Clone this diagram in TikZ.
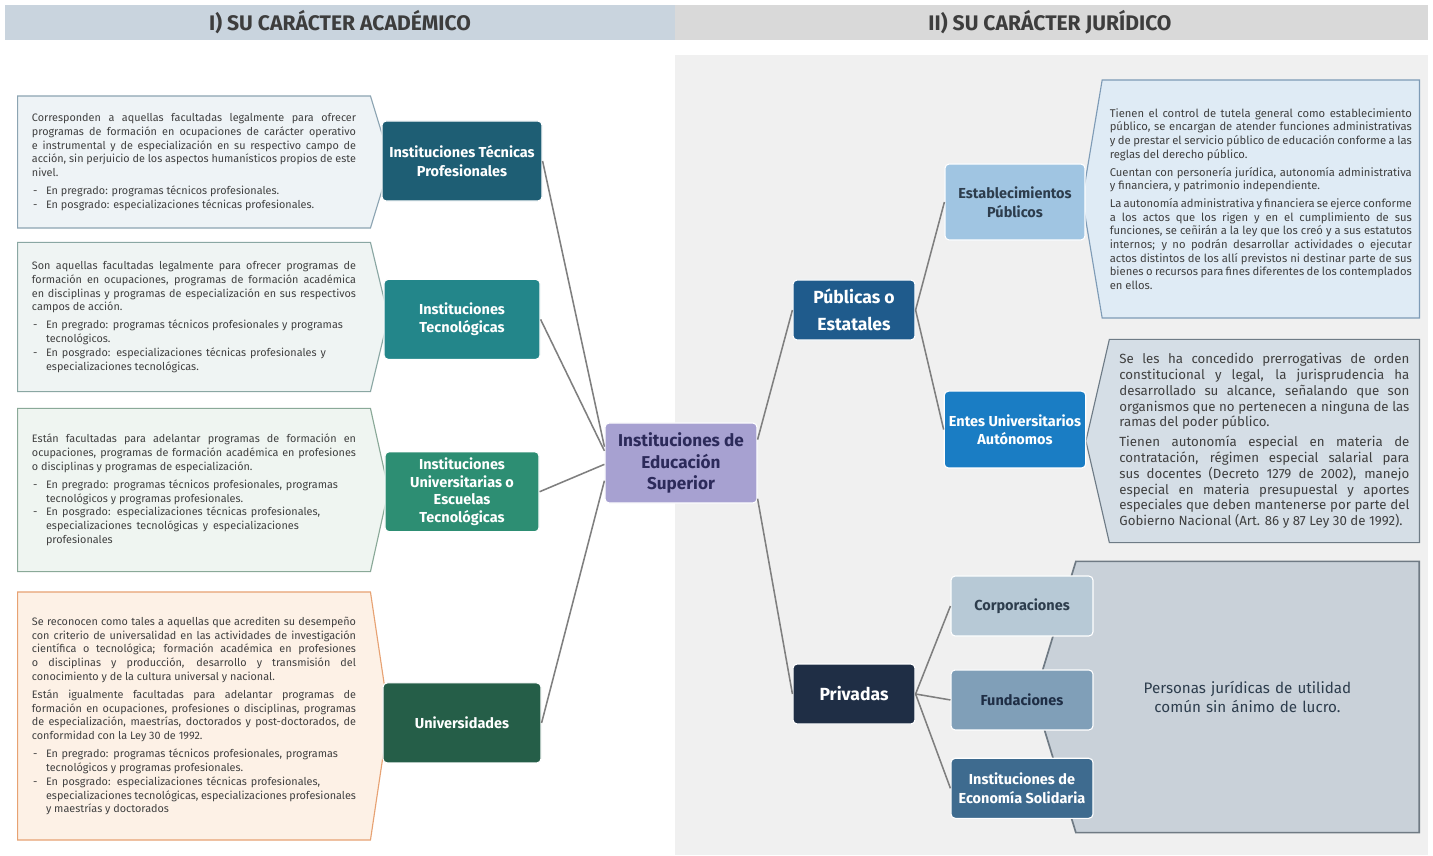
\documentclass[tikz,border=0pt]{standalone}
\usepackage{fontspec}
\setmainfont{Fira Sans}
\usetikzlibrary{positioning,shapes.symbols}
\definecolor{hdrA}{HTML}{C9D4DE}
\definecolor{hdrB}{HTML}{D9D9D9}
\definecolor{panel}{HTML}{F0F0F0}
\definecolor{hdrtxt}{HTML}{3D3D3D}
\definecolor{txt}{HTML}{404040}
\definecolor{linea}{HTML}{7F7F7F}
\definecolor{tecpro}{HTML}{1E5E74}
\definecolor{tecno}{HTML}{23868A}
\definecolor{univesc}{HTML}{2D8E73}
\definecolor{univ}{HTML}{255E48}
\definecolor{ies}{HTML}{A7A1D1}
\definecolor{iestxt}{HTML}{2C2A5A}
\definecolor{publ}{HTML}{1F5B8C}
\definecolor{priv}{HTML}{1F2E45}
\definecolor{estab}{HTML}{A0C5E2}
\definecolor{entes}{HTML}{1A7DC4}
\definecolor{corp}{HTML}{B7C9D6}
\definecolor{fund}{HTML}{809FB8}
\definecolor{econ}{HTML}{3E6B8F}
\definecolor{oscuro}{HTML}{2D3D4D}
\definecolor{fondoA}{HTML}{EEF3F6}
\definecolor{bordeA}{HTML}{8CA4B2}
\definecolor{fondoB}{HTML}{EFF4F3}
\definecolor{bordeB}{HTML}{8AA7A3}
\definecolor{fondoC}{HTML}{EFF5F1}
\definecolor{bordeC}{HTML}{8AA998}
\definecolor{fondoD}{HTML}{FDF1E6}
\definecolor{bordeD}{HTML}{E7A273}
\definecolor{fondoE}{HTML}{DFEBF5}
\definecolor{bordeE}{HTML}{7E9BB6}
\definecolor{fondoF}{HTML}{D5DEE6}
\definecolor{bordeF}{HTML}{6E7B86}
\definecolor{fondoG}{HTML}{C9D1D9}
\definecolor{bordeG}{HTML}{6F7A84}
\tikzset{
  titulo/.style = {text=hdrtxt, font=\bfseries\fontsize{15}{17}\selectfont},
  box/.style    = {rounded corners=3pt, draw=white, line width=0.8pt, minimum height=2cm, align=center, text=white, font=\bfseries\fontsize{10.3}{13.2}\selectfont},
  nota/.style   = {signal, signal from=nowhere, line width=0.8pt, align=justify, text=txt, inner ysep=0pt, font=\fontsize{7.7}{9.8}\selectfont},
  izq/.style    = {nota, signal to=east, text width=8.1cm, inner xsep=0.36cm, anchor=west},
  der/.style    = {nota, signal to=west, anchor=east},
  line/.style   = {draw=linea, line width=1.1pt},
}
\hyphenpenalty=10000
\exhyphenpenalty=10000
\emergencystretch=2em
\newcommand\guion[1]{\par\hangindent=1.3em\hangafter=1\rightskip=0pt plus 4em\noindent\hbox to 1.3em{\hspace{0.1em}-\hfil}#1\par}
\newcommand\sigue{\par\vspace{3pt}}

\begin{document}
\begin{tikzpicture}[x=0.025cm,y=-0.025cm]
  \useasboundingbox (0,0) rectangle (1433,855);
  \fill[white] (0,0) rectangle (1433,855);
  \fill[hdrA] (5,5) rectangle (675,40);
  \fill[hdrB] (675,5) rectangle (1428,40);
  \fill[panel] (675,55) rectangle (1428,855);
  \node[titulo] (acad) at (340,22) {I) SU CARÁCTER ACADÉMICO};
  \node[titulo] (jur) at (1050,22) {II) SU CARÁCTER JURÍDICO};

  \node[izq, draw=bordeA, fill=fondoA, minimum height=3.3cm, signal pointer angle=146] (notatec) at (17,162) {Corresponden a aquellas facultadas legalmente para ofrecer programas de formación en ocupaciones de carácter operativo e instrumental y de especialización en su respectivo campo de acción, sin perjuicio de los aspectos humanísticos propios de este nivel.\sigue
    \guion{En pregrado: programas técnicos profesionales.}
    \guion{En posgrado: especializaciones técnicas profesionales.}};
  \node[izq, draw=bordeB, fill=fondoB, minimum height=3.73cm, signal pointer angle=153] (notatecno) at (17,317) {Son aquellas facultadas legalmente para ofrecer programas de formación en ocupaciones, programas de formación académica en disciplinas y programas de especialización en sus respectivos campos de acción.\sigue
    \guion{En pregrado: programas técnicos profesionales y programas tecnológicos.}
    \guion{En posgrado: especializaciones técnicas profesionales y especializaciones tecnológicas.}};
  \node[izq, draw=bordeC, fill=fondoC, minimum height=4.08cm, signal pointer angle=155] (notaesc) at (17,490) {Están facultadas para adelantar programas de formación en ocupaciones, programas de formación académica en profesiones o disciplinas y programas de especialización.\sigue
    \guion{En pregrado: programas técnicos profesionales, programas tecnológicos y programas profesionales.}
    \guion{En posgrado: especializaciones técnicas profesionales, especializaciones tecnológicas y especializaciones profesionales}};
  \node[izq, draw=bordeD, fill=fondoD, minimum height=6.2cm, signal pointer angle=163] (notauniv) at (17,716) {Se reconocen como tales a aquellas que acrediten su desempeño con criterio de universalidad en las actividades de investigación científica o tecnológica; formación académica en profesiones o disciplinas y producción, desarrollo y transmisión del conocimiento y de la cultura universal y nacional.\sigue
    Están igualmente facultadas para adelantar programas de formación en ocupaciones, profesiones o disciplinas, programas de especialización, maestrías, doctorados y post-doctorados, de conformidad con la Ley 30 de 1992.\sigue
    \guion{En pregrado: programas técnicos profesionales, programas tecnológicos y programas profesionales.}
    \guion{En posgrado: especializaciones técnicas profesionales, especializaciones tecnológicas, especializaciones profesionales y maestrías y doctorados}};

  \node[der, draw=bordeE, fill=fondoE, text width=7.55cm, inner xsep=0.19cm, minimum height=5.95cm, signal pointer angle=161, font=\fontsize{8}{9.7}\selectfont] (notaestab) at (1420,199) {Tienen el control de tutela general como establecimiento público, se encargan de atender funciones administrativas y de prestar el servicio público de educación conforme a las reglas del derecho público.\sigue
    Cuentan con personería jurídica, autonomía administrativa y financiera, y patrimonio independiente.\sigue
    La autonomía administrativa y financiera se ejerce conforme a los actos que los rigen y en el cumplimiento de sus funciones, se ceñirán a la ley que los creó y a sus estatutos internos; y no podrán desarrollar actividades o ejecutar actos distintos de los allí previstos ni destinar parte de sus bienes o recursos para fines diferentes de los contemplados en ellos.};
  \node[der, draw=bordeF, fill=fondoF, text width=7.25cm, inner xsep=0.25cm, minimum height=5.08cm, signal pointer angle=154, font=\fontsize{9.45}{11.2}\selectfont] (notaentes) at (1420,441) {Se les ha concedido prerrogativas de orden constitucional y legal, la jurisprudencia ha desarrollado su alcance, señalando que son organismos que no pertenecen a ninguna de las ramas del poder público.\sigue
    Tienen autonomía especial en materia de contratación, régimen especial salarial para sus docentes (Decreto 1279 de 2002), manejo especial en materia presupuestal y aportes especiales que deben mantenerse por parte del Gobierno Nacional (Art. 86 y 87 Ley 30 de 1992).};
  \node[der, draw=bordeG, fill=fondoG, line width=1.2pt, text width=8.2cm, inner xsep=0.19cm, minimum height=6.78cm, signal pointer angle=146, align=center, text=oscuro, font=\fontsize{10.8}{13.5}\selectfont] (notapriv) at (1420,697) {Personas jurídicas de utilidad\\común sin ánimo de lucro.};

  \node[box, fill=tecpro, minimum width=4cm] (tecpro) at (462,161) {Instituciones Técnicas\\Profesionales};
  \node[box, fill=tecno, minimum width=3.9cm, below=1.93cm of tecpro] (tecno) {Instituciones\\Tecnológicas};
  \node[box, fill=univesc, minimum width=3.85cm, below=2.28cm of tecno, font=\bfseries\fontsize{10.3}{12.6}\selectfont] (univesc) {Instituciones\\Universitarias o\\Escuelas\\Tecnológicas};
  \node[box, fill=univ, minimum width=3.95cm, below=3.75cm of univesc] (univ) {Universidades};
  \node[box, fill=ies, minimum width=3.8cm, text=iestxt, font=\bfseries\fontsize{12.2}{15.6}\selectfont] (ies) at (681,463) {Instituciones de\\Educación\\Superior};

  \node[box, fill=publ, minimum width=3.05cm, minimum height=1.5cm, font=\bfseries\fontsize{12.5}{19.5}\selectfont] (publ) at (854,310) {Públicas o\\Estatales};
  \node[box, fill=priv, minimum width=3.05cm, minimum height=1.5cm, font=\bfseries\fontsize{12.5}{19.5}\selectfont] (priv) at (854,694) {Privadas};
  \node[box, fill=estab, minimum width=3.5cm, minimum height=1.9cm, text=oscuro] (estab) at (1015,202) {Establecimientos\\Públicos};
  \node[box, fill=entes, minimum width=3.5cm, minimum height=1.92cm, below=3.75cm of estab] (entes) {Entes Universitarios\\Autónomos};
  \node[box, fill=corp, minimum width=3.55cm, minimum height=1.5cm, text=oscuro] (corp) at (1022,606) {Corporaciones};
  \node[box, fill=fund, minimum width=3.55cm, minimum height=1.5cm, text=priv, below=0.82cm of corp] (fund) {Fundaciones};
  \node[box, fill=econ, minimum width=3.55cm, minimum height=1.5cm, below=0.68cm of fund] (econ) {Instituciones de\\Economía Solidaria};

  \draw[line] (tecpro.east) -- (ies.168);
  \draw[line] (tecno.east) -- (ies.171);
  \draw[line] (univesc.east) -- (ies.181);
  \draw[line] (univ.east) -- (ies.193);
  \draw[line] (ies.17) -- (publ.west);
  \draw[line] (ies.-25) -- (priv.west);
  \draw[line] (publ.east) -- (estab.west);
  \draw[line] (publ.east) -- (entes.west);
  \draw[line] (priv.east) -- (corp.west);
  \draw[line] (priv.east) -- (fund.west);
  \draw[line] (priv.east) -- (econ.west);
\end{tikzpicture}
\end{document}
